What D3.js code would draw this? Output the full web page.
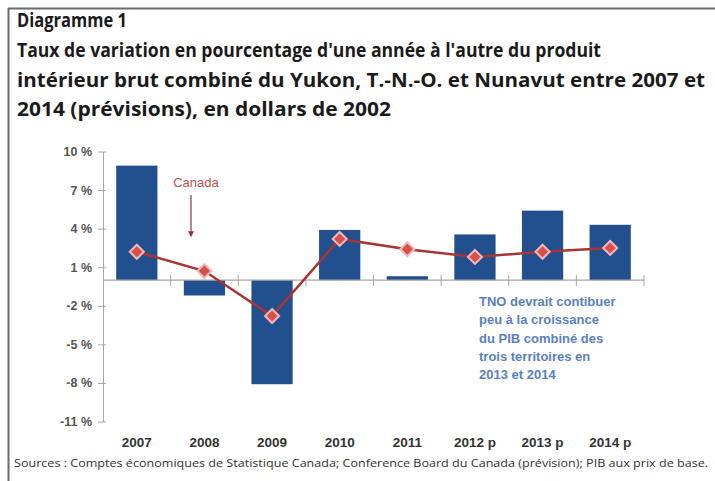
<!DOCTYPE html>
<html>
<head>
<meta charset="utf-8">
<script src="https://cdn.jsdelivr.net/npm/d3@7"></script>
<style>
  body { margin: 0; background: #fff; }
  svg { display: block; }
</style>
</head>
<body>
<script>
// chart data
var years = ["2007", "2008", "2009", "2010", "2011", "2012 p", "2013 p", "2014 p"];
var territoires = [8.9, -1.2, -8.1, 3.9, 0.3, 3.55, 5.4, 4.3];
var canada = [2.2, 0.7, -2.8, 3.2, 2.4, 1.8, 2.2, 2.5];
var yTicks = [10, 7, 4, 1, -2, -5, -8, -11];
var titleLines = [
  "Diagramme 1",
  "Taux de variation en pourcentage d'une année à l'autre du produit",
  "intérieur brut combiné du Yukon, T.-N.-O. et Nunavut entre 2007 et",
  "2014 (prévisions), en dollars de 2002"
];
var noteLines = [
  "TNO devrait contibuer",
  "peu à la croissance",
  "du PIB combiné des",
  "trois territoires en",
  "2013 et 2014"
];
var sourceText = "Sources : Comptes économiques de Statistique Canada; Conference Board du Canada (prévision); PIB aux prix de base.";

var width = 715, height = 481;

var svg = d3.select("body").append("svg")
    .attr("width", width)
    .attr("height", height);

//frame lines at top and left
svg.append("line").attr("x1", 8).attr("x2", width).attr("y1", 8.5).attr("y2", 8.5)
    .attr("stroke", "#6a6a6a").attr("stroke-width", 2);
svg.append("line").attr("x1", 8.5).attr("x2", 8.5).attr("y1", 8).attr("y2", height)
    .attr("stroke", "#6a6a6a").attr("stroke-width", 2);

//title
var titleY = [27, 57, 87, 116];
var titleW = [110, 584, 688, 374];
svg.selectAll(".title")
    .data(titleLines)
    .enter()
    .append("text")
    .attr("class", "title")
    .attr("x", 17)
    .attr("y", function(d, i){ return titleY[i]; })
    .attr("textLength", function(d, i){ return titleW[i]; })
    .attr("lengthAdjust", "spacingAndGlyphs")
    .style("font-family", "'Open Sans', sans-serif")
    .style("font-weight", "bold")
    .style("font-size", "19px")
    .style("fill", "#1a1a1a")
    .text(function(d){ return d; });

//scales
var x = d3.scaleBand()
    .domain(years)
    .range([103, 644])
    .paddingInner(0.39)
    .paddingOuter(0.195);

var y = d3.scaleLinear()
    .domain([-11, 10])
    .range([421.5, 151.5]);

//y axis
var yAxis = svg.append("g")
    .attr("transform", "translate(103,0)")
    .call(d3.axisLeft(y).tickValues(yTicks).tickSizeInner(5).tickSizeOuter(0)
        .tickFormat(function(d){ return d + " %"; }));
yAxis.select(".domain").attr("stroke", "#a6a6a6");
yAxis.selectAll(".tick line").attr("stroke", "#a6a6a6").attr("x2", 3).attr("x1", -5);
yAxis.selectAll(".tick text")
    .attr("x", -11)
    .style("font-family", "Arial, 'Liberation Sans', sans-serif")
    .style("font-weight", "bold")
    .style("font-size", "12.5px")
    .style("fill", "#555");

//bars
svg.selectAll(".bar")
    .data(territoires)
    .enter()
    .append("rect")
    .attr("class", "bar")
    .attr("x", function(d, i){ return x(years[i]); })
    .attr("width", x.bandwidth())
    .attr("y", function(d){ return y(Math.max(0, d)); })
    .attr("height", function(d){ return Math.abs(y(d) - y(0)); })
    .attr("fill", "#22508f");

//zero line with ticks between categories
svg.append("line")
    .attr("x1", 103).attr("x2", 644)
    .attr("y1", y(0)).attr("y2", y(0))
    .attr("stroke", "#a6a6a6").attr("stroke-width", 1.2);
var bounds = years.map(function(d){ return x(d) + x.bandwidth() + x.step() * x.paddingInner() / 2; });
svg.selectAll(".xtick")
    .data(bounds)
    .enter()
    .append("line")
    .attr("class", "xtick")
    .attr("x1", function(d){ return d; }).attr("x2", function(d){ return d; })
    .attr("y1", y(0) - 5).attr("y2", y(0) + 6)
    .attr("stroke", "#a6a6a6");

//x labels
svg.selectAll(".xlab")
    .data(years)
    .enter()
    .append("text")
    .attr("class", "xlab")
    .attr("x", function(d){ return x(d) + x.bandwidth() / 2; })
    .attr("y", 447)
    .attr("text-anchor", "middle")
    .style("font-family", "Arial, 'Liberation Sans', sans-serif")
    .style("font-weight", "bold")
    .style("font-size", "13.5px")
    .style("fill", "#333")
    .text(function(d){ return d; });

//canada line
var line = d3.line()
    .x(function(d, i){ return x(years[i]) + x.bandwidth() / 2; })
    .y(function(d){ return y(d); });
svg.append("path")
    .datum(canada)
    .attr("d", line)
    .attr("fill", "none")
    .attr("stroke", "#a83434")
    .attr("stroke-width", 2.5);

svg.selectAll(".marker")
    .data(canada)
    .enter()
    .append("path")
    .attr("class", "marker")
    .attr("d", d3.symbol().type(d3.symbolDiamond2).size(125))
    .attr("transform", function(d, i){
        return "translate(" + (x(years[i]) + x.bandwidth() / 2) + "," + y(d) + ")";
    })
    .attr("fill", "#d8504c")
    .attr("stroke", "#f2b8b8")
    .attr("stroke-width", 2);

//canada label with arrow
svg.append("defs").append("marker")
    .attr("id", "arrow")
    .attr("viewBox", "0 0 10 10")
    .attr("refX", 8).attr("refY", 5)
    .attr("markerWidth", 6).attr("markerHeight", 6)
    .attr("markerUnits", "userSpaceOnUse")
    .attr("orient", "auto")
    .append("path")
    .attr("d", "M0,0L10,5L0,10z")
    .attr("fill", "#8e3a48");
svg.append("text")
    .attr("x", 196).attr("y", 187)
    .attr("text-anchor", "middle")
    .style("font-family", "Arial, 'Liberation Sans', sans-serif")
    .style("font-size", "13px")
    .style("fill", "#c0504d")
    .text("Canada");
svg.append("line")
    .attr("x1", 191).attr("x2", 191)
    .attr("y1", 195).attr("y2", 236)
    .attr("stroke", "#8e3a48").attr("stroke-width", 1.2)
    .attr("marker-end", "url(#arrow)");

//note text
svg.selectAll(".note")
    .data(noteLines)
    .enter()
    .append("text")
    .attr("class", "note")
    .attr("x", 479)
    .attr("y", function(d, i){ return 306 + i * 18.3; })
    .style("font-family", "Arial, 'Liberation Sans', sans-serif")
    .style("font-weight", "bold")
    .style("font-size", "13px")
    .style("fill", "#5b80c2")
    .text(function(d){ return d; });

//sources
svg.append("text")
    .attr("x", 14).attr("y", 467)
    .attr("textLength", 694)
    .attr("lengthAdjust", "spacingAndGlyphs")
    .style("font-family", "'Open Sans', sans-serif")
    .style("font-size", "11px")
    .style("fill", "#333")
    .text(sourceText);
</script>
</body>
</html>
